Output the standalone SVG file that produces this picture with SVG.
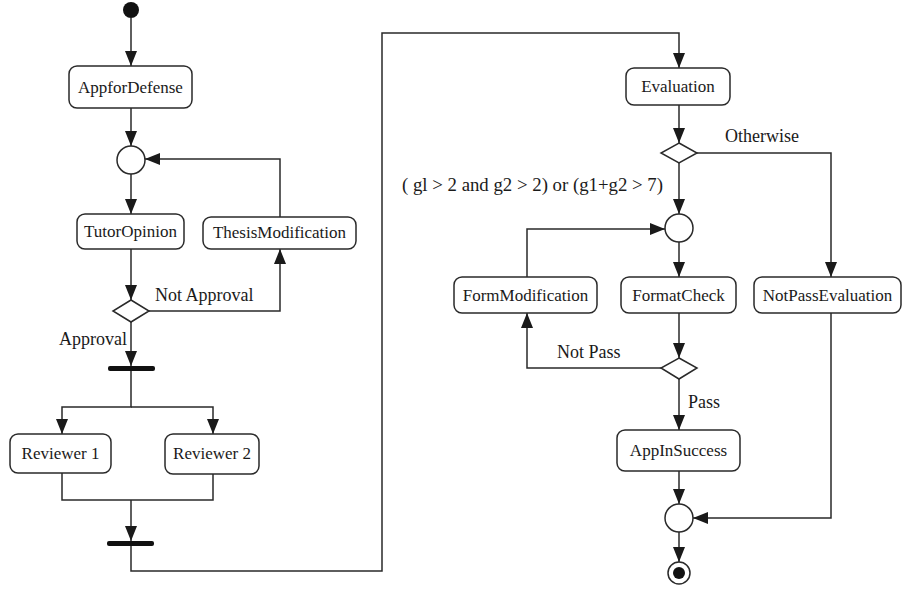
<svg xmlns="http://www.w3.org/2000/svg" width="903" height="593" viewBox="0 0 903 593">
<defs>
<marker id="ah" markerUnits="userSpaceOnUse" markerWidth="15" markerHeight="12" viewBox="0 0 15 12" refX="15" refY="6" orient="auto">
<path d="M0,0 L15,6 L0,12 Z" fill="#1a1a1a"/>
</marker>
<style>
.box{fill:#fff;stroke:#2a2a2a;stroke-width:1.5}
text{font-family:'Liberation Serif','DejaVu Serif',serif;font-size:17px;fill:#1a1a1a}
.lbl{text-anchor:middle}
.g{font-size:18px}
.c{fill:none;stroke:#2a2a2a;stroke-width:1.5}
.a{marker-end:url(#ah)}
.bar{fill:#111}
</style>
</defs>
<rect width="903" height="593" fill="#fff"/>
<g id="connectors">
<path class="c a" d="M131,18 V66"/>
<path class="c a" d="M131,108 V146"/>
<path class="c a" d="M131,174 V214"/>
<path class="c a" d="M131,249 V300"/>
<path class="c a" d="M149,311 H280 V249"/>
<path class="c a" d="M280,217 V159 H145"/>
<path class="c a" d="M131,322 V366"/>
<path class="c a" d="M131,371 V407 H62 V434"/>
<path class="c a" d="M131,407 H213 V434"/>
<path class="c" d="M62,473 V500 H213 V474"/>
<path class="c a" d="M131,500 V541"/>
<path class="c a" d="M131,546 V571 H382 V33 H679 V68"/>
<path class="c a" d="M679,105 V143"/>
<path class="c a" d="M697,153 H831 V277"/>
<path class="c a" d="M679,163 V214"/>
<path class="c a" d="M679,242 V277"/>
<path class="c a" d="M527,277 V229 H665"/>
<path class="c a" d="M679,313 V358"/>
<path class="c a" d="M661,368 H527 V313"/>
<path class="c a" d="M679,379 V430"/>
<path class="c a" d="M679,471 V504"/>
<path class="c a" d="M831,313 V518 H693"/>
<path class="c a" d="M679,532 V562"/>
</g>
<g id="labels">
<text class="g" x="155" y="301">Not Approval</text>
<text class="g" x="59" y="345">Approval</text>
<text class="g" x="725" y="142">Otherwise</text>
<text class="g" x="402" y="191" textLength="261" lengthAdjust="spacingAndGlyphs">( gl &gt; 2 and g2 &gt; 2) or (g1+g2 &gt; 7)</text>
<text class="g" x="557" y="358">Not Pass</text>
<text class="g" x="688" y="408">Pass</text>
</g>
<g id="start"><circle cx="131" cy="10" r="8" fill="#111"/></g>
<g id="AppforDefense"><rect class="box" x="69" y="66" width="123" height="42" rx="8"/><text class="lbl" x="130.5" y="93">AppforDefense</text></g>
<g id="merge1"><circle class="box" cx="131" cy="160" r="14"/></g>
<g id="TutorOpinion"><rect class="box" x="77" y="214" width="107" height="35" rx="8"/><text class="lbl" x="130.5" y="237">TutorOpinion</text></g>
<g id="ThesisModification"><rect class="box" x="203" y="217" width="153" height="32" rx="8"/><text class="lbl" x="279.5" y="238">ThesisModification</text></g>
<g id="decision1"><path class="box" d="M131,300 L149,311 L131,322 L113,311 Z"/></g>
<g id="fork"><rect class="bar" x="108" y="366" width="47" height="5" rx="2"/></g>
<g id="Reviewer1"><rect class="box" x="10" y="434" width="101" height="39" rx="8"/><text class="lbl" x="60.5" y="459">Reviewer 1</text></g>
<g id="Reviewer2"><rect class="box" x="165" y="434" width="94" height="40" rx="8"/><text class="lbl" x="212" y="459">Reviewer 2</text></g>
<g id="join"><rect class="bar" x="107" y="541" width="47" height="5" rx="2"/></g>
<g id="Evaluation"><rect class="box" x="626" y="68" width="104" height="37" rx="8"/><text class="lbl" x="678" y="92">Evaluation</text></g>
<g id="decision2"><path class="box" d="M679,143 L697,153 L679,163 L661,153 Z"/></g>
<g id="merge2"><circle class="box" cx="679" cy="228" r="14"/></g>
<g id="FormModification"><rect class="box" x="454" y="277" width="143" height="36" rx="8"/><text class="lbl" x="525.5" y="301">FormModification</text></g>
<g id="FormatCheck"><rect class="box" x="621" y="277" width="115" height="36" rx="8"/><text class="lbl" x="678.5" y="301">FormatCheck</text></g>
<g id="NotPassEvaluation"><rect class="box" x="754" y="277" width="147" height="36" rx="8"/><text class="lbl" x="827.5" y="301">NotPassEvaluation</text></g>
<g id="decision3"><path class="box" d="M679,358 L697,368 L679,379 L661,368 Z"/></g>
<g id="AppInSuccess"><rect class="box" x="617" y="430" width="123" height="41" rx="8"/><text class="lbl" x="678.5" y="456">AppInSuccess</text></g>
<g id="merge3"><circle class="box" cx="679" cy="518" r="14"/></g>
<g id="final"><circle class="box" cx="679" cy="573" r="11"/><circle cx="679" cy="573" r="6" fill="#111"/></g>
</svg>
